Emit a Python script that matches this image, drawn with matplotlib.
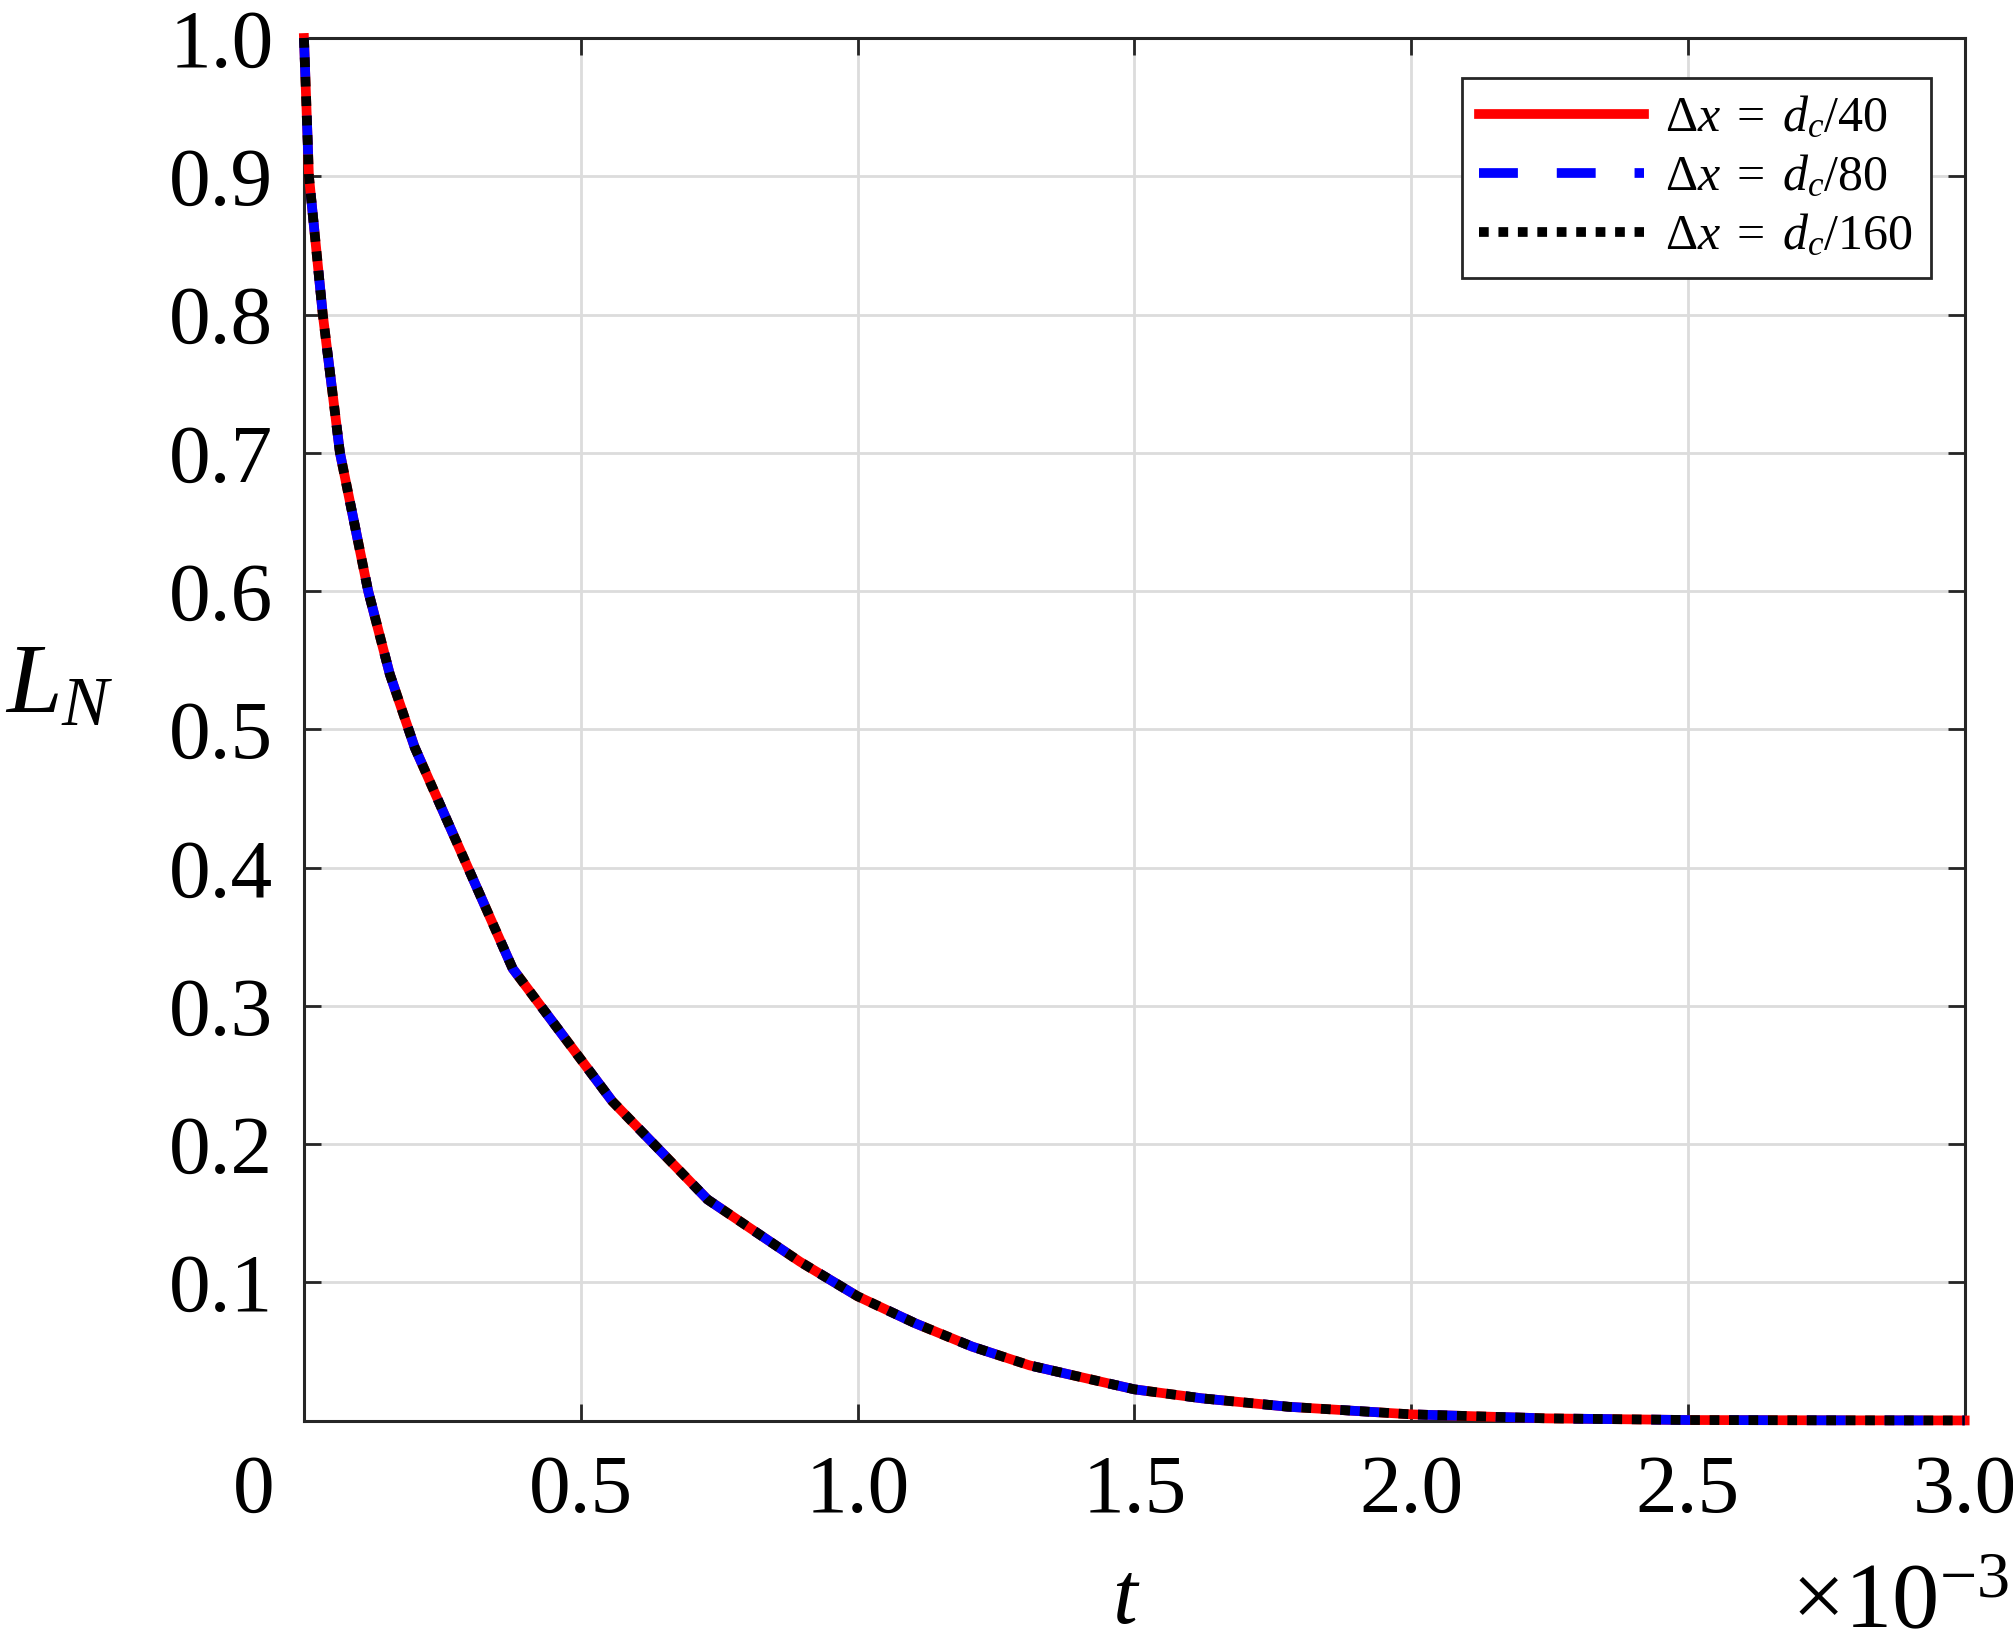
import matplotlib
matplotlib.use("Agg")
import matplotlib.pyplot as plt
from matplotlib.transforms import ScaledTranslation

plt.rcParams['font.family'] = ['Liberation Serif', 'DejaVu Serif']
plt.rcParams['mathtext.fontset'] = 'custom'
plt.rcParams['mathtext.rm'] = 'Liberation Serif'
plt.rcParams['mathtext.it'] = 'Liberation Serif:italic'

# t in units of 1e-3
t = [0.0, 0.009, 0.034, 0.065, 0.116, 0.155, 0.2, 0.377, 0.557, 0.729, 0.896, 1.0,
     1.104, 1.207, 1.311, 1.5, 1.622, 1.778, 2.0, 2.245, 2.5, 2.75, 3.0]
L_40 = [1.0, 0.9, 0.8, 0.7, 0.6, 0.54, 0.487, 0.327, 0.231, 0.160, 0.115, 0.090,
        0.0705, 0.0536, 0.040, 0.0227, 0.0162, 0.0101, 0.0046, 0.0017, 0.0005, 0.0003, 0.0002]
L_80 = [1.0, 0.9, 0.8, 0.7, 0.6, 0.54, 0.487, 0.327, 0.231, 0.160, 0.115, 0.090,
        0.0705, 0.0536, 0.040, 0.0227, 0.0162, 0.0101, 0.0046, 0.0017, 0.0005, 0.0003, 0.0002]
L_160 = [1.0, 0.9, 0.8, 0.7, 0.6, 0.54, 0.487, 0.327, 0.231, 0.160, 0.115, 0.090,
         0.0705, 0.0536, 0.040, 0.0227, 0.0162, 0.0101, 0.0046, 0.0017, 0.0005, 0.0003, 0.0002]

labels = [r'$\Delta x\;=\;d_c/40$', r'$\Delta x\;=\;d_c/80$', r'$\Delta x\;=\;d_c/160$']
xticks = [0, 0.5, 1.0, 1.5, 2.0, 2.5, 3.0]
xticklabels = ['0', '0.5', '1.0', '1.5', '2.0', '2.5', '3.0']
yticks = [0.1, 0.2, 0.3, 0.4, 0.5, 0.6, 0.7, 0.8, 0.9, 1.0]

fig = plt.figure(figsize=(20.13, 16.52), dpi=100)
ax = fig.add_axes([0.151, 0.140, 0.825, 0.837])

lw = 7
ax.plot(t, L_40, color='red', lw=lw, ls='-', label=labels[0], clip_on=False, zorder=3)
ax.plot(t, L_80, color='blue', lw=lw, ls=(0, (4, 4)), dash_capstyle='butt',
        label=labels[1], clip_on=False, zorder=3)
ax.plot(t, L_160, color='black', lw=lw, ls=(0, (1, 1)), dash_capstyle='butt',
        label=labels[2], clip_on=False, zorder=3)

ax.set_xlim(0, 3.0)
ax.set_ylim(0, 1.0)
ax.set_xticks(xticks)
ax.set_xticklabels(xticklabels)
ax.set_yticks(yticks)
ax.set_yticklabels(['%.1f' % v for v in yticks])

ax.grid(True, color='#dcdcdc', lw=2)
ax.set_axisbelow(True)
for s in ax.spines.values():
    s.set_color('#262626')
    s.set_linewidth(2.2)
ax.tick_params(direction='in', length=12.5, width=2, color='#262626',
               top=True, right=True, labelsize=60)
ax.tick_params(axis='x', pad=24)
ax.tick_params(axis='y', pad=22)

# shift the "0" label left as in the original
lab0 = ax.get_xticklabels()[0]
lab0.set_transform(lab0.get_transform() + ScaledTranslation(-0.5, 0, fig.dpi_scale_trans))

ax.set_ylabel(r'$L_N$', fontsize=72, rotation=0, va='center', ha='center')
ax.yaxis.set_label_coords(-0.147, 0.53)
ax.set_xlabel(r'$t$', fontsize=64, va='bottom')
ax.xaxis.set_label_coords(0.495, -0.160)
ax.text(1.027, -0.164, r'$\times10^{-3}$', transform=ax.transAxes, fontsize=68,
        ha='right', va='bottom', clip_on=False)

leg = ax.legend(loc='upper right', bbox_to_anchor=(0.9795, 0.971), borderaxespad=0,
                fontsize=36, handlelength=3.3, handletextpad=0.42, labelspacing=0.25,
                fancybox=False, framealpha=1, edgecolor='#262626', borderpad=0.35)
leg.get_frame().set_linewidth(2)

plt.savefig('out.png', dpi=100)
